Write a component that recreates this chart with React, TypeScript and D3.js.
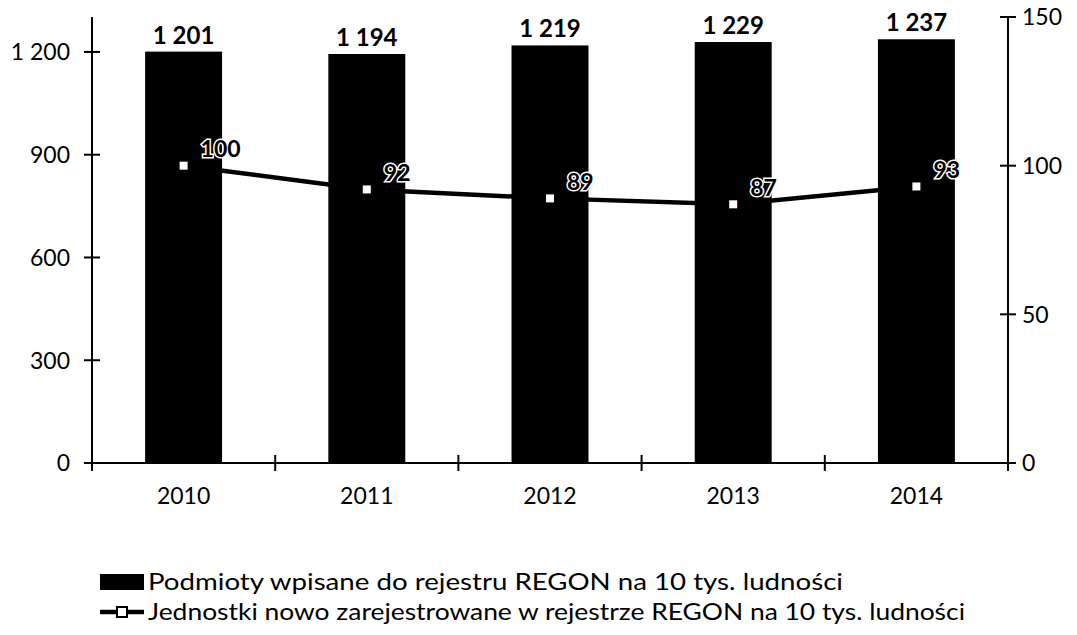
import React from "react";
import * as d3 from "d3";

const years = ["2010", "2011", "2012", "2013", "2014"];
const podmioty = [1201, 1194, 1219, 1229, 1237];
const jednostki = [100, 92, 89, 87, 93];
const leftTicks = [0, 300, 600, 900, 1200];
const rightTicks = [0, 50, 100, 150];
const legendLabels = [
  "Podmioty wpisane do rejestru REGON na 10 tys. ludności",
  "Jednostki nowo zarejestrowane w rejestrze REGON na 10 tys. ludności",
];

const W = 1077;
const H = 635;
const FONT = "Lato, 'Open Sans', sans-serif";

const locale = d3.formatLocale({ decimal: ",", thousands: " ", grouping: [3], currency: ["", ""] });
const fmt = locale.format(",d");

export default function App() {
  const x0 = 92, x1 = 1008, yTop = 17, yBot = 463;
  const x = d3.scaleBand<string>().domain(years).range([x0, x1]).paddingInner(0.58).paddingOuter(0.29);
  const step = (x1 - x0) / years.length;
  const yL = d3.scaleLinear().domain([0, 1302]).range([yBot, yTop]);
  const yR = d3.scaleLinear().domain([0, 150]).range([yBot, yTop]);
  const cx = (i: number) => (x(years[i]) as number) + x.bandwidth() / 2;
  const line = d3.line<number>().x((_, i) => cx(i)).y((d) => yR(d));

  return (
    <svg width={W} height={H} style={{ position: "absolute", left: 0, top: 0, background: "#fff" }} fontFamily={FONT}>
      {/* bars */}
      {podmioty.map((v, i) => (
        <rect key={"b" + i} x={x(years[i])} y={yL(v)} width={x.bandwidth()} height={yBot - yL(v)} fill="#000" />
      ))}
      {podmioty.map((v, i) => (
        <text key={"bl" + i} x={cx(i)} y={yL(v) - 8} textAnchor="middle" fontSize={24} fontWeight={700} fill="#000">
          {fmt(v)}
        </text>
      ))}
      {/* left axis */}
      <line x1={x0} x2={x0} y1={yTop} y2={yBot} stroke="#000" strokeWidth={2} />
      {leftTicks.map((t) => (
        <g key={"lt" + t}>
          <line x1={x0 - 8} x2={x0 + 8} y1={yL(t)} y2={yL(t)} stroke="#000" strokeWidth={2} />
          <text x={70} y={yL(t)} dy="0.36em" textAnchor="end" fontSize={23} fill="#000">
            {fmt(t)}
          </text>
        </g>
      ))}
      {/* right axis */}
      <line x1={x1} x2={x1} y1={yTop} y2={yBot} stroke="#000" strokeWidth={2} />
      {rightTicks.map((t) => (
        <g key={"rt" + t}>
          <line x1={x1 - 8} x2={x1 + 8} y1={yR(t)} y2={yR(t)} stroke="#000" strokeWidth={2} />
          <text x={1022} y={yR(t)} dy="0.36em" textAnchor="start" fontSize={23} fill="#000">
            {t}
          </text>
        </g>
      ))}
      {/* x axis */}
      <line x1={x0 - 8} x2={x1} y1={yBot} y2={yBot} stroke="#000" strokeWidth={2} />
      {d3.range(years.length + 1).map((k) => (
        <line key={"xt" + k} x1={x0 + k * step} x2={x0 + k * step} y1={yBot - 8} y2={yBot + 8} stroke="#000" strokeWidth={2} />
      ))}
      {years.map((yr, i) => (
        <text key={"xl" + i} x={cx(i)} y={496} dy="0.36em" textAnchor="middle" fontSize={23} fill="#000">
          {yr}
        </text>
      ))}
      {/* line series */}
      <path d={line(jednostki) || ""} fill="none" stroke="#000" strokeWidth={4.5} />
      {jednostki.map((v, i) => (
        <rect key={"m" + i} x={cx(i) - 5} y={yR(v) - 5} width={10} height={10} fill="#fff" stroke="#000" strokeWidth={2} />
      ))}
      {jednostki.map((v, i) => (
        <text
          key={"ll" + i}
          x={cx(i) + 17}
          y={yR(v) - 17}
          dy="0.36em"
          textAnchor="start"
          fontSize={23}
          fontWeight={700}
          fill="#000"
          stroke="#fff"
          strokeWidth={3}
          paintOrder="stroke"
        >
          {v}
        </text>
      ))}
      {/* legend */}
      <rect x={100} y={574} width={44} height={16} fill="#000" />
      <text x={148} y={582} dy="0.36em" fontSize={23} fill="#000" textLength={695} lengthAdjust="spacingAndGlyphs">
        {legendLabels[0]}
      </text>
      <line x1={100} x2={144} y1={612} y2={612} stroke="#000" strokeWidth={4.5} />
      <rect x={117} y={607} width={10} height={10} fill="#fff" stroke="#000" strokeWidth={2} />
      <text x={148} y={612} dy="0.36em" fontSize={23} fill="#000" textLength={817} lengthAdjust="spacingAndGlyphs">
        {legendLabels[1]}
      </text>
    </svg>
  );
}
